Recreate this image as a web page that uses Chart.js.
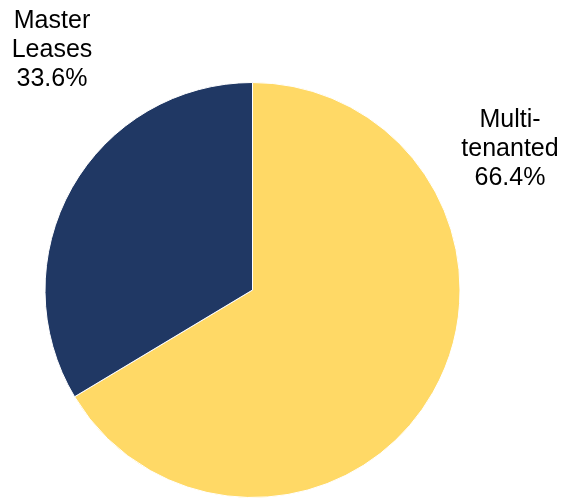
<!DOCTYPE html>
<html>
<head>
<meta charset="utf-8">
<script src="https://cdn.jsdelivr.net/npm/chart.js@4"></script>
<style>
  html, body { margin: 0; padding: 0; background: #fff; }
  #wrap { width: 566px; height: 498px; }
</style>
</head>
<body>
<div id="wrap"><canvas id="myChart" width="566" height="498"></canvas></div>
<script>
const categories = ['Multi-tenanted', 'Master Leases'];
const shares = [66.4, 33.6];
const sliceColors = ['#FFD966', '#203864'];

// label lines and where they go (text center x, first baseline y)
const labelLines = [['Multi-', 'tenanted', '66.4%'], ['Master', 'Leases', '33.6%']];
const labelSpots = [[510, 127], [52, 28]];

const outsideLabels = {
    id: 'outsideLabels',
    afterDraw(chart) {
        const ctx = chart.ctx;
        ctx.save();
        ctx.font = '25px "Liberation Sans", Arial, sans-serif';
        ctx.fillStyle = '#000';
        ctx.textAlign = 'center';
        ctx.textBaseline = 'alphabetic';
        labelLines.forEach((lines, i) => {
            const [x, y] = labelSpots[i];
            lines.forEach((t, j) => ctx.fillText(t, x, y + j * 29));
        });
        ctx.restore();
    }
};

const ctx = document.getElementById('myChart').getContext('2d');
new Chart(ctx, {
    type: 'pie',
    data: {
        labels: categories,
        datasets: [{
            data: shares,
            backgroundColor: sliceColors,
            borderColor: '#ffffff',
            borderWidth: 1
        }]
    },
    options: {
        responsive: false,
        animation: false,
        layout: { padding: { left: 44, right: 105, top: 82, bottom: 0 } },
        plugins: {
            legend: { display: false },
            tooltip: { enabled: false }
        }
    },
    plugins: [outsideLabels]
});
</script>
</body>
</html>
